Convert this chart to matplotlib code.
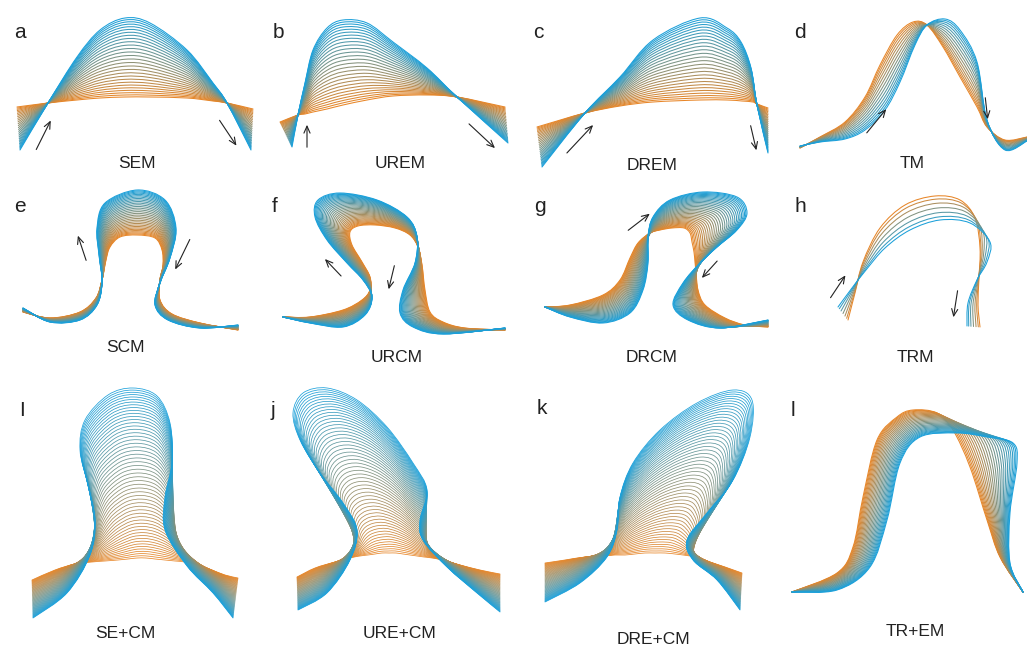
import numpy as np
import matplotlib.pyplot as plt
from matplotlib.path import Path
from matplotlib.patches import PathPatch

plt.rcParams['font.family'] = ['Liberation Sans', 'DejaVu Sans']

# mode shapes, in pixel coords (x right, y down)
# each panel: first (orange) and last (blue) shape, same number of points
sem_first = [(17, 107), (48, 103), (77, 100), (100, 98), (125, 97), (150, 97), (187, 98), (213, 101), (227, 103), (253, 109)]
sem_last = [(20, 150), (48, 103), (77, 57), (100, 30), (125, 18), (150, 23), (187, 50), (213, 83), (227, 103), (251, 150)]

urem_first = [(280, 122), (298, 115), (305, 114), (313, 112), (327, 109), (343, 105), (367, 100), (393, 96), (427, 95), (457, 97), (505, 107)]
urem_last = [(292, 147), (298, 115), (305, 83), (313, 50), (327, 28), (343, 20), (367, 23), (393, 42), (427, 68), (457, 97), (508, 143)]

drem_first = [(537, 127), (585, 113), (620, 106), (653, 102), (700, 100), (727, 100), (742, 101), (753, 102), (757, 104), (768, 108)]
drem_last = [(542, 167), (585, 113), (620, 77), (653, 40), (700, 18), (727, 28), (741, 42), (751, 68), (757, 105), (768, 153)]

tm_first = [(800, 148), (820, 137), (845, 122), (865, 97), (880, 65), (897, 35), (913, 22), (927, 25), (943, 47), (960, 77), (977, 107), (987, 127), (1005, 140), (1027, 137)]
tm_last = [(800, 146), (820, 142), (845, 139), (865, 130), (885, 110), (900, 82), (915, 45), (927, 25), (945, 19), (960, 30), (977, 62), (987, 120), (1005, 150), (1027, 141)]

scm_first = [(23, 312), (50, 318), (80, 312), (96, 298), (102, 280), (106, 260), (110, 247), (120, 237), (137, 235), (155, 238), (162, 250), (163, 265), (160, 280), (160, 300), (172, 314), (200, 323), (238, 330)]
scm_last = [(23, 308), (50, 322), (80, 320), (97, 305), (102, 282), (99, 255), (97, 228), (105, 203), (137, 190), (165, 200), (176, 228), (170, 258), (160, 283), (155, 305), (168, 320), (200, 328), (238, 325)]

urcm_first = [(283, 317), (310, 317), (343, 310), (362, 300), (370, 290), (370, 277), (362, 262), (352, 245), (350, 232), (358, 226), (375, 225), (395, 228), (410, 235), (418, 247), (422, 265), (425, 290), (430, 312), (443, 322), (465, 328), (505, 330)]
urcm_last = [(283, 317), (310, 323), (343, 327), (365, 315), (372, 297), (363, 280), (347, 263), (327, 240), (315, 217), (318, 200), (340, 193), (377, 200), (407, 217), (417, 237), (415, 263), (403, 290), (400, 313), (413, 327), (443, 334), (505, 328)]

drcm_first = [(545, 307), (570, 305), (603, 295), (620, 280), (630, 258), (638, 243), (650, 233), (660, 230), (672, 228), (684, 228), (690, 233), (692, 242), (694, 252), (695, 262), (696, 272), (698, 290), (705, 305), (725, 318), (745, 325), (768, 327)]
drcm_last = [(545, 307), (570, 317), (603, 323), (630, 313), (643, 290), (648, 263), (648, 237), (653, 217), (670, 200), (703, 192), (737, 197), (747, 213), (737, 230), (717, 247), (700, 263), (683, 283), (673, 305), (688, 320), (720, 328), (768, 320)]

trm_first = [(848, 320), (855, 293), (863, 262), (880, 228), (905, 205), (935, 196), (960, 200), (975, 218), (980, 248), (979, 278), (978, 305), (980, 327)]
trm_last = [(838, 307), (852, 288), (866, 270), (885, 248), (910, 230), (940, 220), (970, 223), (990, 242), (987, 262), (977, 280), (968, 303), (967, 326)]

secm_first = [(32, 580), (55, 570), (75, 564), (92, 562), (105, 561), (118, 560), (128, 559), (137, 558), (146, 558), (155, 559), (165, 560), (175, 561), (185, 562), (198, 565), (212, 570), (225, 575), (238, 578)]
secm_last = [(33, 618), (67, 593), (90, 555), (95, 520), (88, 485), (80, 450), (85, 420), (108, 395), (133, 388), (157, 396), (170, 423), (172, 462), (165, 497), (165, 530), (187, 566), (213, 593), (233, 618)]

urecm_first = [(297, 577), (315, 568), (335, 562), (350, 558), (360, 556), (368, 555), (375, 554), (382, 553), (389, 553), (396, 553), (403, 554), (410, 555), (417, 556), (424, 557), (432, 558), (442, 560), (460, 565), (480, 570), (500, 574)]
urecm_last = [(298, 610), (327, 593), (350, 560), (357, 530), (343, 503), (320, 473), (300, 440), (293, 413), (303, 393), (327, 388), (357, 400), (387, 427), (413, 463), (427, 490), (420, 520), (423, 540), (447, 567), (477, 593), (500, 612)]

drecm_first = [(545, 563), (565, 560), (585, 557), (605, 556), (615, 555), (625, 555), (635, 554), (645, 553), (655, 553), (665, 553), (675, 554), (683, 555), (690, 556), (697, 557), (710, 562), (725, 567), (742, 573)]
drecm_last = [(545, 602), (580, 583), (607, 557), (617, 530), (620, 497), (633, 463), (660, 430), (697, 403), (733, 390), (752, 400), (750, 437), (733, 480), (707, 513), (687, 540), (693, 560), (717, 580), (740, 610)]

trem_first = [(792, 592), (837, 573), (853, 547), (863, 497), (877, 440), (897, 417), (913, 410), (937, 413), (953, 430), (970, 467), (987, 520), (1000, 557), (1023, 592)]
trem_last = [(792, 592), (837, 590), (870, 567), (887, 520), (900, 463), (920, 437), (957, 433), (987, 437), (1013, 443), (1017, 463), (1010, 513), (1010, 563), (1023, 592)]

curve_counts = [28, 28, 28, 15, 32, 32, 32, 7, 55, 55, 55, 26]
letters = ['a', 'b', 'c', 'd', 'e', 'f', 'g', 'h', 'I', 'j', 'k', 'l']
letter_pos = [(20, 33), (278, 33), (538, 33), (800, 33), (20, 207), (275, 207), (540, 207), (800, 207), (22, 410), (273, 410), (542, 408), (793, 410)]
names = ['SEM', 'UREM', 'DREM', 'TM', 'SCM', 'URCM', 'DRCM', 'TRM', 'SE+CM', 'URE+CM', 'DRE+CM', 'TR+EM']
name_pos = [(137, 163), (400, 163), (652, 165), (912, 163), (125, 347), (397, 357), (652, 357), (915, 357), (125, 633), (400, 633), (653, 640), (915, 632)]

# arrows: (tail, head)
arrows = [((35, 152), (52, 118)), ((218, 118), (238, 148)),
          ((307, 150), (307, 122)), ((467, 122), (497, 150)),
          ((565, 155), (595, 123)), ((750, 123), (757, 153)),
          ((865, 135), (888, 107)), ((985, 95), (988, 122)),
          ((87, 263), (77, 233)), ((191, 237), (174, 272)),
          ((343, 278), (323, 257)), ((395, 263), (388, 292)),
          ((626, 232), (652, 212)), ((719, 259), (700, 280)),
          ((829, 300), (847, 273)), ((958, 288), (953, 320))]

ORANGE = np.array([232, 134, 40]) / 255
BLUE = np.array([27, 160, 218]) / 255


def smooth_path(pts):
    p = np.asarray(pts, float)
    ext = np.vstack([p[0], p, p[-1]])
    verts = [p[0]]
    codes = [Path.MOVETO]
    for i in range(len(p) - 1):
        p0, p1, p2, p3 = ext[i], ext[i + 1], ext[i + 2], ext[i + 3]
        verts += [p1 + (p2 - p0) / 6, p2 - (p3 - p1) / 6, p2]
        codes += [Path.CURVE4] * 3
    return Path(verts, codes)


def draw_family(ax, first, last, n, lw):
    a = np.array(first, float)
    b = np.array(last, float)
    for k in range(n):
        s = k / (n - 1)
        # slightly denser near the two extreme shapes
        t = 0.65 * s + 0.35 * 0.5 * (1 - np.cos(np.pi * s))
        col = (1 - t) * ORANGE + t * BLUE
        ax.add_patch(PathPatch(smooth_path((1 - t) * a + t * b), fill=False,
                               edgecolor=col, lw=lw, capstyle='round'))


fig = plt.figure(figsize=(10.27, 6.46), dpi=100)
ax = fig.add_axes([0, 0, 1, 1])
ax.set_xlim(0, 1027)
ax.set_ylim(646, 0)
ax.axis('off')

shapes = [(sem_first, sem_last), (urem_first, urem_last), (drem_first, drem_last), (tm_first, tm_last),
          (scm_first, scm_last), (urcm_first, urcm_last), (drcm_first, drcm_last), (trm_first, trm_last),
          (secm_first, secm_last), (urecm_first, urecm_last), (drecm_first, drecm_last), (trem_first, trem_last)]

for i, (first, last) in enumerate(shapes):
    lw = 0.55 if curve_counts[i] > 40 else 0.75
    draw_family(ax, first, last, curve_counts[i], lw)
    ax.text(*letter_pos[i], letters[i], fontsize=15, color='#222222', ha='center', va='center')
    ax.text(*name_pos[i], names[i], fontsize=12.5, color='#222222', ha='center', va='center')

for tail, head in arrows:
    ax.annotate('', xy=head, xytext=tail,
                arrowprops=dict(arrowstyle='->,head_length=0.5,head_width=0.22', lw=0.8, color='#222222'))

fig.savefig('out.png', dpi=100)
